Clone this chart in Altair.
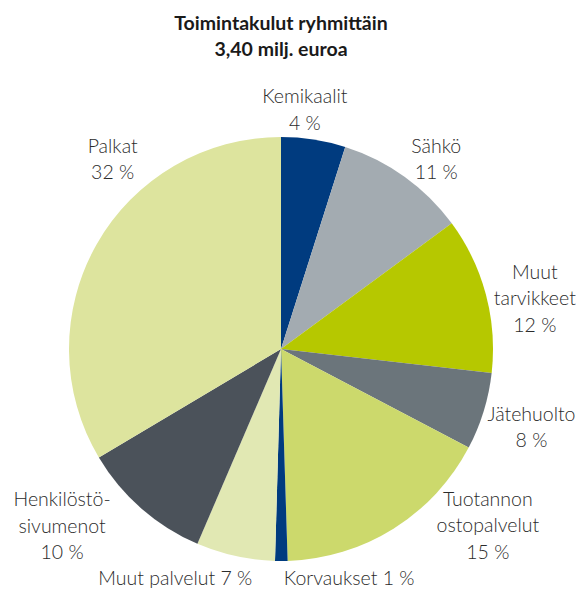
import altair as alt
import pandas as pd

# --- data (shares, labels as printed) ---
categories = ["Kemikaalit", "Sähkö", "Muut tarvikkeet", "Jätehuolto",
              "Tuotannon ostopalvelut", "Korvaukset", "Muut palvelut",
              "Henkilöstösivumenot", "Palkat"]
shares = [4.9, 10.0, 11.9, 5.9, 16.8, 0.95, 6.0, 10.0, 33.55]
label_texts = ["Kemikaalit\n4 %", "Sähkö\n11 %", "Muut\ntarvikkeet\n12 %",
               "Jätehuolto\n8 %", "Tuotannon\nostopalvelut\n15 %",
               "Korvaukset 1 %", "Muut palvelut 7 %",
               "Henkilöstö-\nsivumenot\n10 %", "Palkat\n32 %"]
title_lines = "Toimintakulut ryhmittäin\n3,40 milj. euroa"

# --- styling / layout (label anchor = first line, polar around pie centre) ---
colors = ["#003b7f", "#a3abb1", "#b6c800", "#6b757b", "#ccd96c",
          "#003b7f", "#e1e8b3", "#4b525a", "#dde49e"]
label_angle_deg = [5.4, 37.5, 73.3, 104.7, 126.1, 163.5, 204.7, 235.4, 320.2]
label_radius = [253, 255, 265, 259, 256, 240, 253, 266, 263]
CX, CY, R = 273, 341, 212
FONT = "Lato"

df = pd.DataFrame({"cat": categories, "value": shares, "idx": range(len(categories))})
lab = pd.DataFrame({
    "cat": categories,
    "text": label_texts,
    "lt": [a / 3.6 for a in label_angle_deg],
    "lr": label_radius,
})

theta_scale = alt.Scale(domain=[0, 100])

pie = alt.Chart(df).mark_arc(radius=R).encode(
    theta=alt.Theta("value:Q", stack=True, scale=theta_scale),
    color=alt.Color("cat:N", scale=alt.Scale(domain=categories, range=colors), legend=None),
    order=alt.Order("idx:Q"),
    x=alt.value(CX),
    y=alt.value(CY),
)

labels = alt.Chart(lab).mark_text(
    lineBreak="\n", align="center", baseline="middle", fontSize=19.5,
    font=FONT, fontWeight=300, color="#2b2b2b", lineHeight=26.5,
).encode(
    theta=alt.Theta("lt:Q", stack=None, scale=theta_scale),
    radius=alt.Radius("lr:Q", scale=alt.Scale(type="linear", domain=[0, 400], range=[0, 400], zero=True)),
    text="text:N",
    x=alt.value(CX),
    y=alt.value(CY),
)

title = alt.Chart(pd.DataFrame({"t": [title_lines]})).mark_text(
    lineBreak="\n", align="center", baseline="middle", fontSize=19.5,
    font=FONT, fontWeight="bold", color="#1a1a1a", lineHeight=26,
).encode(text="t:N", x=alt.value(CX), y=alt.value(16))

chart = alt.layer(pie, labels, title).properties(
    width=568, height=582, autosize=alt.AutoSizeParams(type="none"), padding=0,
).configure_view(stroke=None)

chart.save("out.html", embed_options={"renderer": "svg", "actions": False})
